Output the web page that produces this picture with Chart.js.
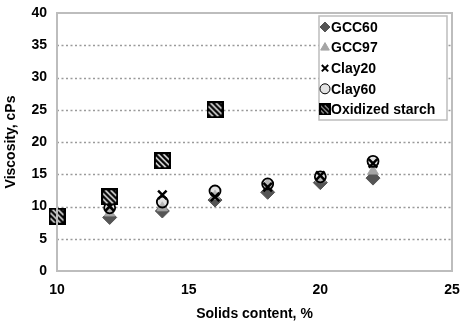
<!DOCTYPE html>
<html>
<head>
<meta charset="utf-8">
<script src="https://cdn.jsdelivr.net/npm/chart.js@4/dist/chart.umd.min.js"></script>
<style>
    html, body { margin: 0; padding: 0; background: #fff; }
    #wrap { width: 464px; height: 323px; }
</style>
</head>
<body>
<div id="wrap"><canvas id="chart"></canvas></div>
<script>
// Values
const solids = [12, 14, 16, 18, 20, 22];
const starchSolids = [10, 12, 14, 16];
const gcc60 = [8.3, 9.3, 11.0, 12.2, 13.7, 14.4];
const gcc97 = [9.0, 9.8, 11.6, 13.5, 14.3, 15.5];
const clay20 = [10.0, 11.8, 11.5, 13.0, 14.8, 16.7];
const clay60 = [9.8, 10.7, 12.4, 13.5, 14.6, 17.0];
const starch = [8.5, 11.5, 17.1, 25.0];
const yTicks = [0, 5, 10, 15, 20, 25, 30, 35, 40];
const xTicks = [10, 15, 20, 25];

const FONT = 'Liberation Sans, Arial, sans-serif';

function points(xs, ys) {
    return xs.map((x, i) => ({x, y: ys[i]}));
}

// Hatched square marker
function hatchSquare(size, gap) {
    const c = document.createElement('canvas');
    c.width = size;
    c.height = size;
    const g = c.getContext('2d');
    g.fillStyle = '#fff';
    g.fillRect(0, 0, size, size);
    g.save();
    g.beginPath();
    g.rect(1, 1, size - 2, size - 2);
    g.clip();
    g.strokeStyle = '#000';
    g.lineWidth = 2.4;
    for (let k = -size; k < size * 2; k += gap) {
        g.beginPath();
        g.moveTo(k, 0);
        g.lineTo(k + size, size);
        g.stroke();
    }
    g.restore();
    g.strokeStyle = '#000';
    g.lineWidth = 2;
    g.strokeRect(1, 1, size - 2, size - 2);
    return c;
}
const starchMarker = hatchSquare(17, 5.5);
const starchLegendMarker = hatchSquare(12, 4.5);

const datasets = [
    {label: 'GCC60', data: points(solids, gcc60), pointStyle: 'rectRot', radius: 7,
     backgroundColor: '#555', borderColor: '#555', borderWidth: 1, order: 4},
    {label: 'GCC97', data: points(solids, gcc97), pointStyle: 'triangle', radius: 6,
     backgroundColor: '#a5a5a5', borderColor: '#a5a5a5', borderWidth: 1, order: 3},
    {label: 'Clay20', data: points(solids, clay20), pointStyle: 'crossRot', radius: 6,
     backgroundColor: '#000', borderColor: '#000', borderWidth: 2.5, order: 1},
    {label: 'Clay60', data: points(solids, clay60), pointStyle: 'circle', radius: 5.5,
     backgroundColor: 'rgba(200,200,200,0.5)', borderColor: '#000', borderWidth: 1.8, order: 2},
    {label: 'Oxidized starch', data: points(starchSolids, starch), pointStyle: starchMarker,
     radius: 8, backgroundColor: '#000', borderColor: '#000', order: 0, clip: false}
];

// dotted grid, plot frame and legend box
const framePlugin = {
    id: 'frame',
    beforeDatasetsDraw(chart) {
        const {ctx, chartArea: a, scales} = chart;
        ctx.save();
        ctx.strokeStyle = '#9a9a9a';
        ctx.lineWidth = 1.3;
        ctx.setLineDash([2, 2.5]);
        yTicks.forEach((v) => {
            if (v === 0 || v === 40) return;
            const y = Math.round(scales.y.getPixelForValue(v)) + 0.5;
            ctx.beginPath();
            ctx.moveTo(a.left, y);
            ctx.lineTo(a.right, y);
            ctx.stroke();
        });
        ctx.restore();
    },
    afterDatasetsDraw(chart) {
        const {ctx, chartArea: a} = chart;
        ctx.save();
        ctx.strokeStyle = '#bdbdbd';
        ctx.lineWidth = 2;
        ctx.strokeRect(a.left, a.top, a.right - a.left, a.bottom - a.top);

        // legend
        const box = {x: 319, y: 16, w: 128, h: 104};
        ctx.fillStyle = '#fff';
        ctx.fillRect(box.x, box.y, box.w, box.h);
        ctx.strokeStyle = '#bdbdbd';
        ctx.lineWidth = 1.5;
        ctx.strokeRect(box.x, box.y, box.w, box.h);
        ctx.font = 'bold 14px ' + FONT;
        ctx.textBaseline = 'middle';
        ctx.textAlign = 'left';
        datasets.forEach((ds, i) => {
            const y = 27 + i * 20.6;
            const style = ds.pointStyle === starchMarker ? starchLegendMarker : ds.pointStyle;
            ctx.fillStyle = ds.backgroundColor;
            ctx.strokeStyle = ds.borderColor;
            ctx.lineWidth = ds.pointStyle === 'crossRot' ? 2 : 1;
            Chart.helpers.drawPoint(ctx, {
                pointStyle: style,
                radius: ds.pointStyle === 'crossRot' ? 4.5 : 5,
                rotation: 0,
                borderWidth: ctx.lineWidth
            }, 325, y);
            ctx.fillStyle = '#000';
            ctx.fillText(ds.label, 331, y + 1);
        });
        ctx.restore();
    }
};

new Chart(document.getElementById('chart'), {
    type: 'scatter',
    data: {datasets},
    plugins: [framePlugin],
    options: {
        responsive: true,
        maintainAspectRatio: false,
        animation: false,
        layout: {padding: {top: 13, right: 12, left: 0, bottom: 0}},
        plugins: {
            legend: {display: false},
            tooltip: {enabled: false}
        },
        scales: {
            x: {
                type: 'linear',
                min: 10,
                max: 25,
                afterBuildTicks: (s) => { s.ticks = xTicks.map(v => ({value: v})); },
                grid: {display: false, drawTicks: false},
                border: {display: false},
                ticks: {
                    color: '#000',
                    padding: 11,
                    font: {family: FONT, size: 14, weight: 'bold'}
                },
                title: {
                    display: true,
                    text: 'Solids content, %',
                    color: '#000',
                    padding: {top: 0, bottom: 0},
                    font: {family: FONT, size: 14, weight: 'bold'}
                },
                afterFit: (s) => {
                    s.height = 52;
                    s.paddingLeft = 0;
                    s.paddingRight = 0;
                }
            },
            y: {
                min: 0,
                max: 40,
                afterBuildTicks: (s) => { s.ticks = yTicks.map(v => ({value: v})); },
                grid: {display: false, drawTicks: false},
                border: {display: false},
                ticks: {
                    color: '#000',
                    padding: 10,
                    font: {family: FONT, size: 14, weight: 'bold'}
                },
                title: {
                    display: true,
                    text: 'Viscosity, cPs',
                    color: '#000',
                    padding: {top: 3, bottom: 0},
                    font: {family: FONT, size: 14, weight: 'bold'}
                },
                afterFit: (s) => {
                    s.width = 57;
                    s.paddingTop = 0;
                    s.paddingBottom = 0;
                }
            }
        }
    }
});
</script>
</body>
</html>
